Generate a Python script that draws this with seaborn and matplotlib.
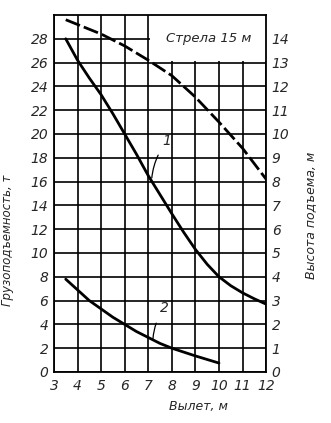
import matplotlib
matplotlib.use("Agg")
import matplotlib.pyplot as plt
import seaborn as sns
import pandas as pd
from matplotlib.patches import Rectangle

# Data
reach_1 = [3.5, 4, 4.5, 5, 5.5, 6, 6.5, 7, 7.5, 8, 8.5, 9, 9.5, 10, 10.5, 11, 11.5, 12]
capacity_1 = [28.0, 26.2, 24.7, 23.3, 21.7, 20.0, 18.3, 16.5, 14.9, 13.3, 11.75, 10.3,
              9.05, 8.0, 7.25, 6.65, 6.15, 5.7]
reach_2 = [3.5, 4, 4.5, 5, 5.5, 6, 6.5, 7, 7.5, 8, 9, 10]
capacity_2 = [7.8, 6.9, 6.0, 5.3, 4.6, 4.0, 3.4, 2.9, 2.4, 2.0, 1.35, 0.75]
reach_h = [3.5, 4, 5, 6, 7, 8, 9, 10, 11, 12]
height = [14.8, 14.6, 14.2, 13.7, 13.1, 12.45, 11.55, 10.5, 9.4, 8.1]

x_ticks = [3, 4, 5, 6, 7, 8, 9, 10, 11, 12]
left_ticks = list(range(0, 29, 2))
right_ticks = list(range(0, 15))

sns.set_style("white")
plt.rcParams['font.family'] = ['DejaVu Sans']
plt.rcParams['font.style'] = 'italic'

fig = plt.figure(figsize=(3.31, 4.23), dpi=100)
ax = fig.add_axes([0.163, 0.1206, 0.641, 0.844])

df1 = pd.DataFrame({"x": reach_1, "y": capacity_1})
df2 = pd.DataFrame({"x": reach_2, "y": capacity_2})
sns.lineplot(data=df1, x="x", y="y", ax=ax, color="black", lw=2.0, sort=False, zorder=3)
sns.lineplot(data=df2, x="x", y="y", ax=ax, color="black", lw=2.0, sort=False, zorder=3)

ax.set_xlim(3, 12)
ax.set_ylim(0, 30)
ax.set_xticks(x_ticks)
ax.set_yticks(left_ticks)
ax.set_xticklabels([str(t) for t in x_ticks], fontsize=10, style='italic')
ax.set_yticklabels([str(t) for t in left_ticks], fontsize=10, style='italic')
ax.tick_params(axis='y', length=0, pad=4)
ax.tick_params(axis='x', length=0, pad=5)
ax.set_axisbelow(True)
ax.grid(True, color="black", lw=1.2)
for s in ax.spines.values():
    s.set_color("black")
    s.set_linewidth(1.3)

# title box that hides the grid in the upper right corner
ax.add_patch(Rectangle((7.06, 26.12), 5.0, 4.0, facecolor="white", edgecolor="none", zorder=1))
ax.text(9.55, 28.0, "Стрела 15 м", fontsize=9.5, style='italic', ha="center", va="center", zorder=4)

ax.set_xlabel("")
ax.set_ylabel("Грузоподъемность, т", fontsize=8.5, style='italic')
ax.yaxis.set_label_coords(-0.19, 0.37)
ax.text(0.68, -0.098, "Вылет, м", transform=ax.transAxes, fontsize=9, style='italic',
        ha="center", va="center")

# right axis: lifting height
ax2 = ax.twinx()
df3 = pd.DataFrame({"x": reach_h, "y": height})
sns.lineplot(data=df3, x="x", y="y", ax=ax2, color="black", lw=2.0, sort=False, zorder=3)
ax2.lines[0].set_dashes((5.5, 1.5))
ax2.set_ylim(0, 15)
ax2.set_yticks(right_ticks)
ax2.set_yticklabels([str(t) for t in right_ticks], fontsize=10, style='italic')
ax2.tick_params(length=0, pad=4)
ax2.set_ylabel("Высота подъема, м", fontsize=9, style='italic', rotation=90)
ax2.yaxis.set_label_coords(1.18, 0.44)
ax2.set_xlim(3, 12)
for s in ax2.spines.values():
    s.set_visible(False)

# curve labels
ax.annotate("1", xy=(7.15, 16.3), xytext=(7.8, 19.4), fontsize=10, style='italic',
            ha="center", va="center",
            arrowprops=dict(arrowstyle="-", color="black", lw=0.9, shrinkA=3, shrinkB=0,
                            connectionstyle="arc3,rad=0.15"), zorder=4)
ax.annotate("2", xy=(7.2, 2.8), xytext=(7.7, 5.4), fontsize=10, style='italic',
            ha="center", va="center",
            arrowprops=dict(arrowstyle="-", color="black", lw=0.9, shrinkA=4, shrinkB=0,
                            connectionstyle="arc3,rad=0.15"), zorder=4)

fig.savefig("out.png", dpi=100, facecolor="white")
